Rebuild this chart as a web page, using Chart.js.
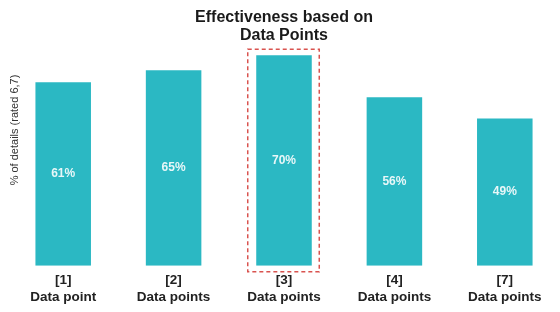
<!DOCTYPE html>
<html>
<head>
<meta charset="utf-8">
<script src="https://cdn.jsdelivr.net/npm/chart.js@4/dist/chart.umd.min.js"></script>
<style>
  html, body { margin: 0; padding: 0; background: #ffffff; }
  #wrap { width: 560px; height: 312px; position: relative; }
</style>
</head>
<body>
<div id="wrap"><canvas id="c" width="560" height="312"></canvas></div>
<script>
const categories = [["[1]", "Data point"], ["[2]", "Data points"], ["[3]", "Data points"], ["[4]", "Data points"], ["[7]", "Data points"]];
const values = [61, 65, 70, 56, 49];
const highlightIndex = 2;
const titleLines = ["Effectiveness based on", "Data Points"];
const yAxisTitle = "% of details (rated 6,7)";

const barColor = "#2bb8c3";
const FONT = "'Liberation Sans', Arial, sans-serif";

const overlayPlugin = {
  id: "overlay",
  afterDatasetsDraw(chart) {
    const ctx = chart.ctx;
    const meta = chart.getDatasetMeta(0);
    // value labels
    ctx.save();
    ctx.fillStyle = "#e8f7f8";
    ctx.font = "bold 12px " + FONT;
    ctx.textAlign = "center";
    ctx.textBaseline = "middle";
    meta.data.forEach((bar, i) => {
      const cy = (bar.y + bar.base) / 2;
      ctx.fillText(values[i] + "%", bar.x, cy);
    });
    ctx.restore();
    // dashed highlight box
    const hb = meta.data[highlightIndex];
    if (hb) {
      ctx.save();
      ctx.strokeStyle = "#d9534f";
      ctx.lineWidth = 1.5;
      ctx.setLineDash([4, 3]);
      const left = hb.x - hb.width / 2 - 8.5;
      const right = hb.x + hb.width / 2 + 7.5;
      const top = hb.y - 6;
      const bottom = hb.base + 6;
      ctx.strokeRect(left, top, right - left, bottom - top);
      ctx.restore();
    }
    // y axis title
    ctx.save();
    ctx.fillStyle = "#333333";
    ctx.font = "11px " + FONT;
    ctx.textAlign = "center";
    ctx.textBaseline = "middle";
    ctx.translate(15, 130);
    ctx.rotate(-Math.PI / 2);
    ctx.fillText(yAxisTitle, 0, 0);
    ctx.restore();
  }
};

new Chart(document.getElementById("c"), {
  type: "bar",
  data: {
    labels: categories,
    datasets: [{
      data: values,
      backgroundColor: barColor,
      borderWidth: 0,
      categoryPercentage: 1,
      barPercentage: 0.503
    }]
  },
  options: {
    responsive: false,
    animation: false,
    devicePixelRatio: 1,
    layout: { padding: { left: 8, right: 0, top: 0, bottom: 0.5 } },
    plugins: {
      legend: { display: false },
      tooltip: { enabled: false },
      title: {
        display: true,
        text: titleLines,
        color: "#1a1a1a",
        font: { family: FONT, size: 16, weight: "bold", lineHeight: 1.1 },
        padding: { top: 9, bottom: 5 }
      }
    },
    scales: {
      x: {
        grid: { display: false, drawTicks: false },
        border: { display: false },
        ticks: {
          color: "#222222",
          padding: 6,
          maxRotation: 0,
          autoSkip: false,
          font: { family: FONT, size: 13.5, weight: "bold", lineHeight: 1.25 }
        }
      },
      y: {
        display: false,
        min: 0,
        max: 72
      }
    }
  },
  plugins: [overlayPlugin]
});
</script>
</body>
</html>
